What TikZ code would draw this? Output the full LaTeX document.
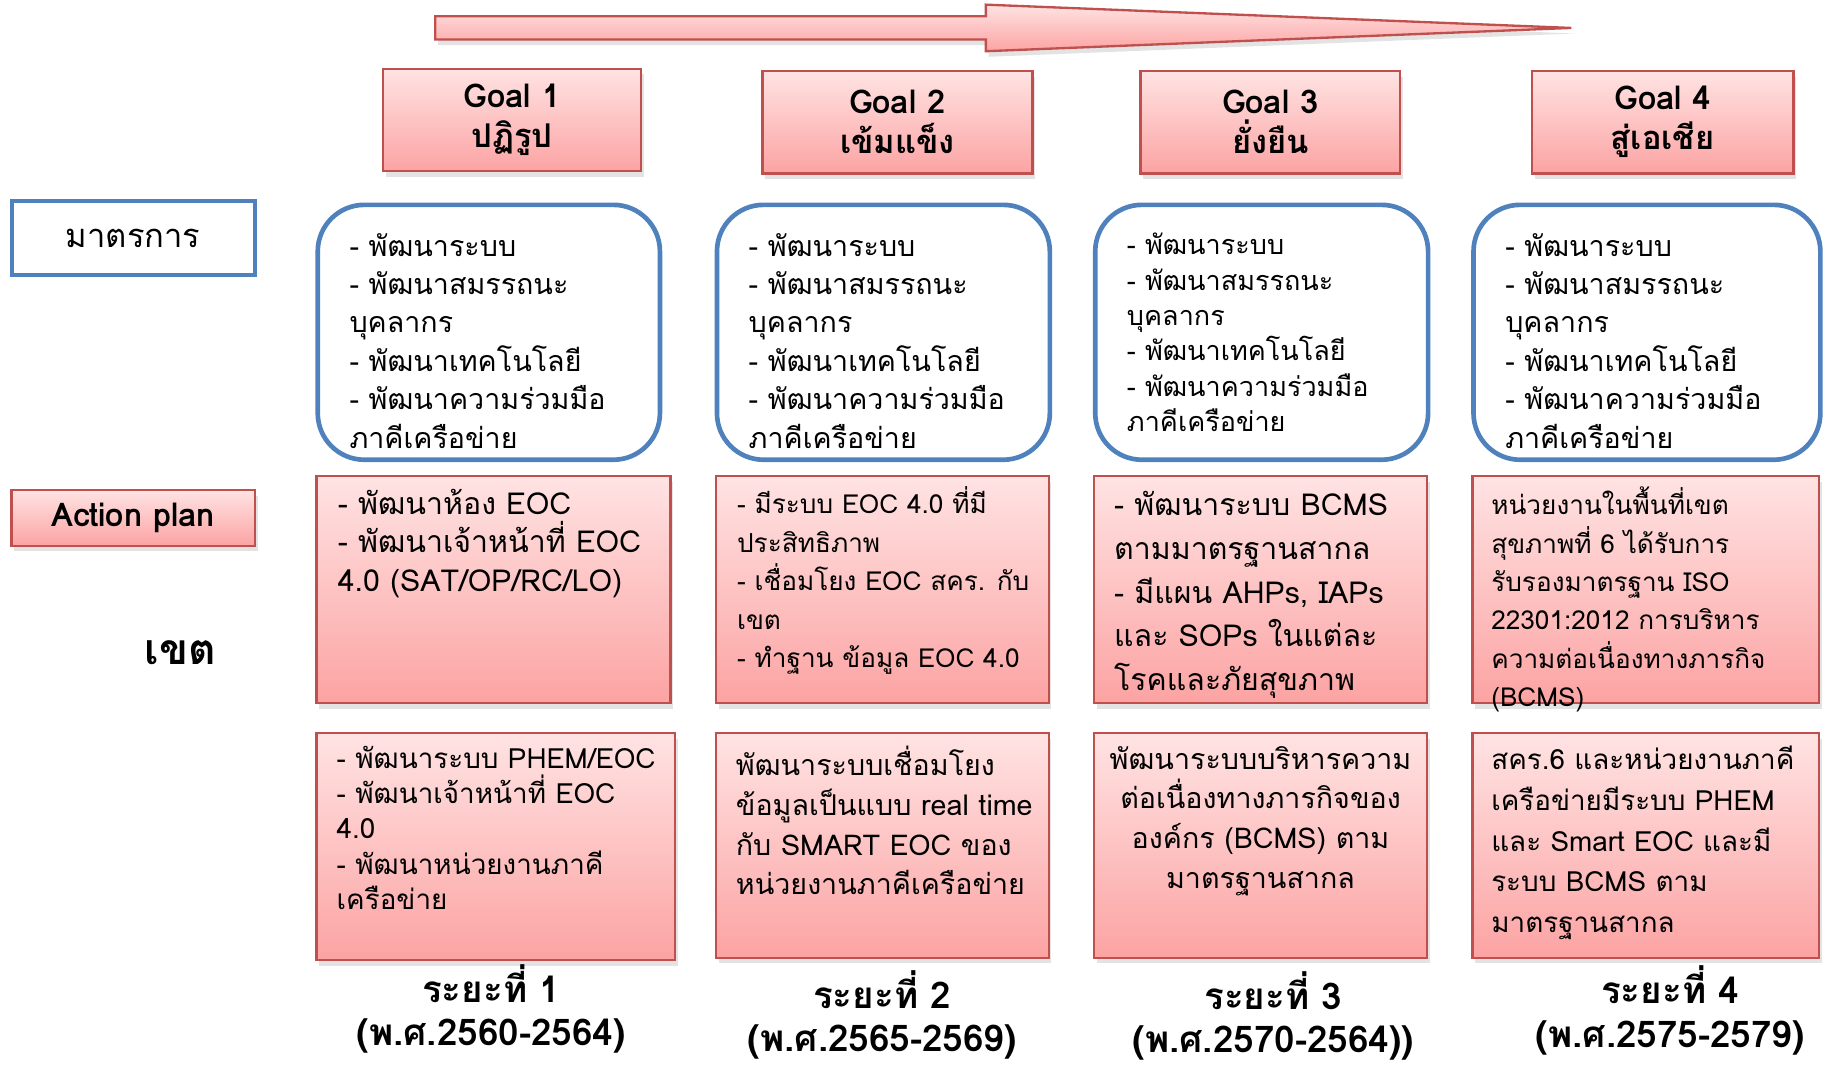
\documentclass[tikz,border=0pt]{standalone}
\usepackage{fontspec}
\setmainfont{Loma}[Script=Thai]
\usetikzlibrary{shadows}
\definecolor{planred}{HTML}{C0504D}
\definecolor{planblue}{HTML}{4F81BD}
\definecolor{pinktop}{HTML}{FFE3E3}
\definecolor{pinkbot}{HTML}{FCA3A3}
\tikzset{
  pinkfill/.style={draw=planred, line width=0.5mm, top color=pinktop, bottom color=pinkbot,
    drop shadow={shadow xshift=0.6mm, shadow yshift=-1.2mm, opacity=0.22}},
  goalbox/.style={pinkfill, minimum width=#1, minimum height=22mm, align=center,
    font=\bfseries\fontsize{20}{24.5}\selectfont},
  measbox/.style={draw=planblue, line width=1mm, rounded corners=10mm, fill=white,
    minimum width=#1, minimum height=54.75mm, anchor=north west},
  planbox/.style={pinkfill, minimum width=#1, minimum height=48.75mm, anchor=north west},
  txt/.style={anchor=north west, align=left, inner sep=0pt, font=\fontsize{17.5}{23.5}\selectfont},
  phase/.style={align=center, inner sep=0pt, font=\bfseries\fontsize{22.5}{26.5}\selectfont}
}
\begin{document}
\begin{tikzpicture}[x=0.25mm,y=-0.25mm]
    \useasboundingbox (0,0) rectangle (1568,917);
    % timeline arrow
    \path[pinkfill] (374,14) -- (847,14) -- (847,4) -- (1350,24) -- (847,44)
        -- (847,34) -- (374,34) -- cycle;
    % goals
    \node[goalbox=55.5mm] (g1) at (440,103) {Goal 1\\ปฏิรูป};
    \node[goalbox=58mm] (g2) at (771,105) {Goal 2\\เข้มแข็ง};
    \node[goalbox=55.75mm] (g3) at (1091.5,105) {Goal 3\\ยั่งยืน};
    \node[goalbox=56.25mm] (g4) at (1428.5,105) {Goal 4\\สู่เอเชีย};
    % row labels
    \node[draw=planblue, line width=0.9mm, fill=white, minimum width=52.25mm, minimum height=15.75mm,
        font=\fontsize{20}{24}\selectfont] (mat) at (114.5,204.5) {มาตรการ};
    \node[pinkfill, minimum width=52.25mm, minimum height=12mm,
        font=\bfseries\fontsize{20}{24}\selectfont] (act) at (114.5,445) {Action plan};
    \node[font=\bfseries\fontsize{26}{30}\selectfont] (khet) at (155,561) {เขต};
    % measures
    \node[measbox=73.5mm] (m1) at (271,174) {};
    \node[measbox=71.5mm] (m2) at (614,174) {};
    \node[measbox=71.5mm] (m3) at (939,174) {};
    \node[measbox=74.5mm] (m4) at (1264,174) {};
    \foreach \m in {m1,m2,m4}
        \node[txt, xshift=7.25mm, yshift=-6.5mm] at (\m.north west)
            {- พัฒนาระบบ\\- พัฒนาสมรรถนะ\\บุคลากร\\- พัฒนาเทคโนโลยี\\- พัฒนาความร่วมมือ\\ภาคีเครือข่าย};
    \node[txt, xshift=7.25mm, yshift=-6.5mm, font=\fontsize{16.5}{21.6}\selectfont] at (m3.north west)
        {- พัฒนาระบบ\\- พัฒนาสมรรถนะ\\บุคลากร\\- พัฒนาเทคโนโลยี\\- พัฒนาความร่วมมือ\\ภาคีเครือข่าย};
    % action plan row
    \node[planbox=76mm] (a1) at (271,408) {};
    \node[planbox=71.5mm] (a2) at (614,408) {};
    \node[planbox=71.5mm] (a3) at (939,408) {};
    \node[planbox=74.5mm] (a4) at (1264,408) {};
    \node[txt, xshift=4.75mm, yshift=-3mm, font=\fontsize{18.5}{23.5}\selectfont] at (a1.north west)
        {- พัฒนาห้อง EOC\\- พัฒนาเจ้าหน้าที่ EOC\\4.0 (SAT/OP/RC/LO)};
    \node[txt, xshift=4.75mm, yshift=-2.5mm, font=\fontsize{16}{23.5}\selectfont] at (a2.north west)
        {- มีระบบ EOC 4.0 ที่มี\\ประสิทธิภาพ\\- เชื่อมโยง EOC สคร. กับ\\เขต\\- ทำฐาน ข้อมูล EOC 4.0};
    \node[txt, xshift=4.5mm, yshift=-3.5mm, font=\fontsize{18.5}{26.7}\selectfont] at (a3.north west)
        {- พัฒนาระบบ BCMS\\ตามมาตรฐานสากล\\- มีแผน AHPs, IAPs\\และ SOPs ในแต่ละ\\โรคและภัยสุขภาพ};
    \node[txt, xshift=4.25mm, yshift=-2.5mm, font=\fontsize{16}{23.5}\selectfont] at (a4.north west)
        {หน่วยงานในพื้นที่เขต\\สุขภาพที่ 6 ได้รับการ\\รับรองมาตรฐาน ISO\\22301:2012 การบริหาร\\ความต่อเนื่องทางภารกิจ\\(BCMS)};
    % zone row
    \node[planbox=77mm] (b1) at (271,629) {};
    \node[planbox=71.5mm, minimum height=48.25mm] (b2) at (614,629) {};
    \node[planbox=71.5mm, minimum height=48.25mm] (b3) at (939,629) {};
    \node[planbox=74.5mm, minimum height=48.25mm] (b4) at (1264,629) {};
    \node[txt, xshift=4.5mm, yshift=-3mm, font=\fontsize{17}{21.5}\selectfont] at (b1.north west)
        {- พัฒนาระบบ PHEM/EOC\\- พัฒนาเจ้าหน้าที่ EOC\\4.0\\- พัฒนาหน่วยงานภาคี\\เครือข่าย};
    \node[txt, xshift=4.5mm, yshift=-3mm, font=\fontsize{17.5}{24.2}\selectfont] at (b2.north west)
        {พัฒนาระบบเชื่อมโยง\\ข้อมูลเป็นแบบ real time\\กับ SMART EOC ของ\\หน่วยงานภาคีเครือข่าย};
    \node[txt, anchor=north, align=center, yshift=-3mm, font=\fontsize{17.5}{24.2}\selectfont] at (b3.north)
        {พัฒนาระบบบริหารความ\\ต่อเนื่องทางภารกิจของ\\องค์กร (BCMS) ตาม\\มาตรฐานสากล};
    \node[txt, xshift=4.25mm, yshift=-3mm, font=\fontsize{17}{24.8}\selectfont] at (b4.north west)
        {สคร.6 และหน่วยงานภาคี\\เครือข่ายมีระบบ PHEM\\และ Smart EOC และมี\\ระบบ BCMS ตาม\\มาตรฐานสากล};
    % phases
    \node[phase] (r1) at (422,867) {ระยะที่ 1\\(พ.ศ.2560-2564)};
    \node[phase] (r2) at (758,872) {ระยะที่ 2\\(พ.ศ.2565-2569)};
    \node[phase] (r3) at (1094,873) {ระยะที่ 3\\(พ.ศ.2570-2564))};
    \node[phase] (r4) at (1435,868) {ระยะที่ 4\\(พ.ศ.2575-2579)};
\end{tikzpicture}
\end{document}
